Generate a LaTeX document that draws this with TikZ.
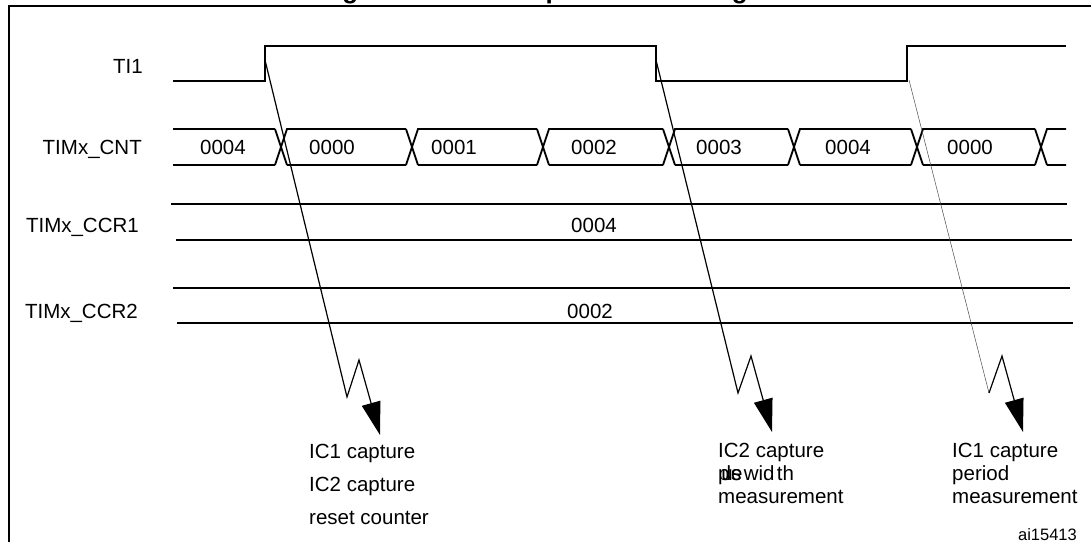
\documentclass[tikz,border=0pt]{standalone}
\usepackage{fontspec}
\setmainfont{Liberation Sans}
\usetikzlibrary{arrows.meta}

\tikzset{
    wave/.style={line width=2pt},
    bus/.style={line width=1.8pt},
    reg/.style={line width=1.8pt},
    capline/.style={line width=1.2pt, -{Triangle[length=33pt,width=19pt]}},
    lbl/.style={anchor=base east, inner sep=0pt, font=\fontsize{20.5}{24}\selectfont},
    val/.style={anchor=base west, inner sep=0pt, font=\fontsize{20.5}{24}\selectfont},
    figframe/.style={line width=2.2pt}
}

\begin{document}
\begin{tikzpicture}[x=1pt, y=-1pt]
    \useasboundingbox (0,0) rectangle (1091,542);

    % Frame and (cut) title
    \draw[figframe] (9,542) -- (9,6) -- (1091,6);
    \node[anchor=base west, inner sep=0pt, font=\fontsize{26}{30}\selectfont\bfseries] (figtitle) at (319,-2) {Figure 45. PWM input mode timing};

    % Signal names
    \node[lbl] (ti1) at (143,73) {TI1};
    \node[lbl] (cnt) at (142,154) {TIMx\_CNT};
    \node[lbl] (ccr1) at (139,232) {TIMx\_CCR1};
    \node[lbl] (ccr2) at (138,318) {TIMx\_CCR2};

    % TI1 input
    \draw[wave] (173,81) -- (265,81) -- (265,46) -- (656,46) -- (656,81) -- (907,81) -- (907,46) -- (1066,46);

    % Counter bus
    \draw[bus] (173,129) -- (275,129) (173,165) -- (275,165);
    \foreach \a/\b in {281/412, 412/543, 543/669, 669/794, 794/917, 917/1041, 1041/1072} {
        \draw[bus] (\a-6,129) -- (\a+6,165) (\a-6,165) -- (\a+6,129) -- (\b-6,129)
                   (\a+6,165) -- (\b-6,165);
    }
    \foreach \x/\v [count=\i] in {200/0004, 309/0000, 431/0001, 571/0002, 696/0003, 825/0004, 947/0000} {
        \node[val] (cntval\i) at (\x,154) {\v};
    }

    % Capture registers
    \draw[reg] (171,204) -- (1067,204) (176,240) -- (1072,240);
    \node[val] (ccr1val) at (571,232) {0004};
    \draw[reg] (173,288) -- (1070,288) (177,323) -- (1073,323);
    \node[val] (ccr2val) at (567,318) {0002};

    % Capture events
    \coordinate (rise1) at (265,60);
    \coordinate (fall1) at (656,60);
    \coordinate (rise2) at (909,80);
    \coordinate (tip1) at (380,435);
    \coordinate (tip2) at (772,432);
    \coordinate (tip3) at (1023,432);
    \draw[capline] (rise1) -- (347,397) -- (359,360) -- (tip1);
    \draw[capline] (fall1) -- (738,393) -- (751,356) -- (tip2);
    \coordinate (zig3) at (989,393);
    \draw[line width=0.5pt, black!70] (rise2) -- (zig3);
    \draw[capline] (zig3) -- (1002,356) -- (tip3);

    % Event texts
    \foreach \y/\t [count=\i] in {458/IC1 capture, 491/IC2 capture, 524/reset counter} {
        \node[val] (capa\i) at (309,\y) {\t};
    }
    \foreach \y/\t [count=\i] in {457/IC2 capture, 480/{p\kern-.4em u\kern-.3em ls\kern-.5em e\kern-.05em\ \kern-.17em wid\kern.12em th}, 503/measurement} {
        \node[val] (capb\i) at (718,\y) {\t};
    }
    \foreach \y/\t [count=\i] in {457/IC1 capture, 480/period, 503/measurement} {
        \node[val] (capc\i) at (952,\y) {\t};
    }

    \node[lbl, font=\fontsize{16.5}{20}\selectfont] (figid) at (1077,540) {ai15413};
\end{tikzpicture}
\end{document}
